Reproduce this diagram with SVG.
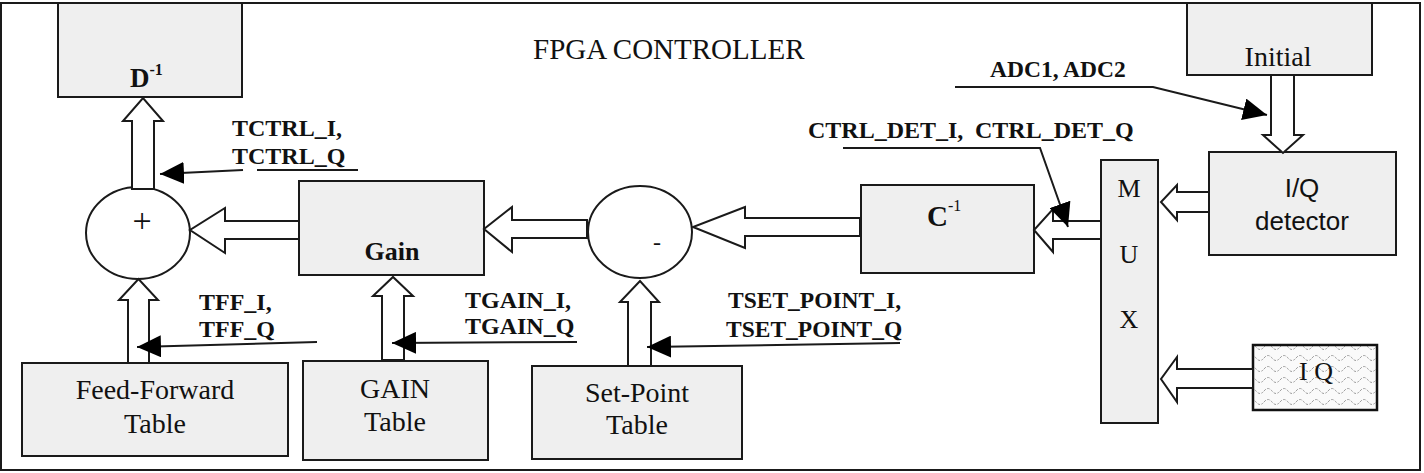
<svg xmlns="http://www.w3.org/2000/svg" width="1424" height="473" viewBox="0 0 1424 473">
<style>
.box{fill:#efefef;stroke:#1a1a1a;stroke-width:2}
.sum{fill:#fff;stroke:#1a1a1a;stroke-width:2}
.blk{fill:#fff;stroke:#1a1a1a;stroke-width:2;stroke-linejoin:miter}
.lead{fill:none;stroke:#1a1a1a;stroke-width:2}
.s{font-family:"Liberation Serif","Times New Roman",serif;fill:#111}
.b{font-family:"Liberation Serif","Times New Roman",serif;font-weight:bold;fill:#111}
.a{font-family:"Liberation Sans",Arial,sans-serif;fill:#111}
</style>
<defs>
<marker id="ah" markerUnits="userSpaceOnUse" markerWidth="24" markerHeight="22" viewBox="0 0 24 22" refX="24" refY="11" orient="auto">
<path d="M0,0 L24,11 L0,22 z" fill="#000"/>
</marker>
<pattern id="wave" patternUnits="userSpaceOnUse" width="16" height="11">
<rect width="16" height="11" fill="#fafafa"/>
<path d="M0,6 q4,-5 8,0 t8,0" fill="none" stroke="#9a9a9a" stroke-width="1" stroke-dasharray="2.5,1.5"/>
</pattern>
</defs>
<rect width="1424" height="473" fill="#fff"/>
<rect id="frame" x="1" y="3" width="1419" height="467" fill="none" stroke="#1a1a1a" stroke-width="2"/>
<text class="s" x="533" y="59" font-size="29">FPGA CONTROLLER</text>

<g id="d-inv">
<rect class="box" x="58" y="3" width="184" height="94"/>
<text class="b" x="130" y="87" font-size="27">D<tspan font-size="16" dy="-12">-1</tspan></text>
</g>
<g id="sum-plus">
<ellipse class="sum" cx="138" cy="233" rx="52" ry="46"/>
<text class="s" x="142" y="232" font-size="34" text-anchor="middle">+</text>
</g>
<g id="gain">
<rect class="box" x="299" y="181" width="185" height="94"/>
<text class="b" x="392" y="260" font-size="26" text-anchor="middle">Gain</text>
</g>
<g id="sum-minus">
<ellipse class="sum" cx="640" cy="232" rx="52" ry="46"/>
<text class="s" x="657" y="250" font-size="24" text-anchor="middle">-</text>
</g>
<g id="c-inv">
<rect class="box" x="861" y="185" width="173" height="88"/>
<text class="b" x="927" y="226" font-size="29">C<tspan class="s" font-weight="normal" font-size="16" dy="-15">-1</tspan></text>
</g>
<g id="mux">
<rect class="box" x="1101" y="160" width="57" height="263"/>
<text class="s" x="1129" y="197" font-size="26" text-anchor="middle">M</text>
<text class="s" x="1129" y="263" font-size="26" text-anchor="middle">U</text>
<text class="s" x="1129" y="328" font-size="26" text-anchor="middle">X</text>
</g>
<g id="initial">
<rect class="box" x="1187" y="3" width="185" height="72"/>
<text class="s" x="1278" y="66" font-size="28" text-anchor="middle">Initial</text>
</g>
<g id="iq-detector">
<rect class="box" x="1209" y="152" width="187" height="103"/>
<text class="a" x="1302" y="197" font-size="26" text-anchor="middle">I/Q</text>
<text class="a" x="1302" y="230" font-size="26" text-anchor="middle">detector</text>
</g>
<g id="iq-source">
<rect x="1253" y="345" width="124" height="65" fill="url(#wave)" stroke="#111" stroke-width="2.5"/>
<text class="s" x="1316" y="380" font-size="26" text-anchor="middle">I Q</text>
</g>
<g id="ff-table">
<rect class="box" x="22" y="363" width="266" height="93"/>
<text class="s" x="155" y="399" font-size="28" text-anchor="middle">Feed-Forward</text>
<text class="s" x="155" y="433" font-size="28" text-anchor="middle">Table</text>
</g>
<g id="gain-table">
<rect class="box" x="303" y="361" width="185" height="99"/>
<text class="s" x="395" y="398" font-size="28" text-anchor="middle">GAIN</text>
<text class="s" x="395" y="431" font-size="28" text-anchor="middle">Table</text>
</g>
<g id="setpoint-table">
<rect class="box" x="532" y="366" width="210" height="93"/>
<text class="s" x="637" y="402" font-size="28" text-anchor="middle">Set-Point</text>
<text class="s" x="637" y="434" font-size="28" text-anchor="middle">Table</text>
</g>

<g id="connectors">
<polygon class="blk" points="132,189 132,121 123,121 143,98 163,121 154,121 154,189"/>
<polygon class="blk" points="299,221 225,221 225,208 190,230 225,253 225,239 299,239"/>
<polygon class="blk" points="587,220 512,220 512,207 484,229 512,252 512,238 587,238"/>
<polygon class="blk" points="860,218 745,218 745,207 693,227 745,248 745,236 860,236"/>
<polygon class="blk" points="1101,221 1053,221 1053,209 1034,230 1053,252 1053,239 1101,239"/>
<polygon class="blk" points="128,363 128,300 119,300 138.5,279 158,300 149,300 149,363"/>
<polygon class="blk" points="382,360 382,296 373,296 393,277 413,296 404,296 404,360"/>
<polygon class="blk" points="628,366 628,302 620,302 640,281 659,302 651,302 651,366"/>
<polygon class="blk" points="1271,75 1271,135 1263,135 1283,153 1303,135 1294,135 1294,75"/>
<polygon class="blk" points="1209,192 1177,192 1177,185 1161,202 1177,220 1177,212 1209,212"/>
<polygon class="blk" points="1253,369 1177,369 1177,357 1161,379 1177,402 1177,388 1253,388"/>

<line class="lead" x1="358" y1="170" x2="257" y2="170"/>
<line class="lead" x1="243" y1="170" x2="160" y2="174" marker-end="url(#ah)"/>
<line class="lead" x1="317" y1="342" x2="137" y2="347" marker-end="url(#ah)"/>
<line class="lead" x1="577" y1="342" x2="392" y2="343" marker-end="url(#ah)"/>
<line class="lead" x1="900" y1="343" x2="647" y2="347" marker-end="url(#ah)"/>
<polyline class="lead" points="843,148 1040,148 1068,227" marker-end="url(#ah)"/>
<polyline class="lead" points="955,87 1153,87 1267,115" marker-end="url(#ah)"/>
</g>

<g id="labels">
<text class="b" x="232" y="136" font-size="24">TCTRL_I,</text>
<text class="b" x="232" y="164" font-size="24">TCTRL_Q</text>
<text class="b" x="199" y="310" font-size="24">TFF_I,</text>
<text class="b" x="199" y="337" font-size="24">TFF_Q</text>
<text class="b" x="465" y="308" font-size="24">TGAIN_I,</text>
<text class="b" x="465" y="334" font-size="24">TGAIN_Q</text>
<text class="b" x="728" y="308" font-size="23.5">TSET_POINT_I,</text>
<text class="b" x="726" y="337" font-size="23.5">TSET_POINT_Q</text>
<text class="b" x="808" y="138" font-size="24">CTRL_DET_I, <tspan x="975">CTRL_DET_Q</tspan></text>
<text class="b" x="990" y="77" font-size="23.5">ADC1, ADC2</text>
</g>
</svg>
